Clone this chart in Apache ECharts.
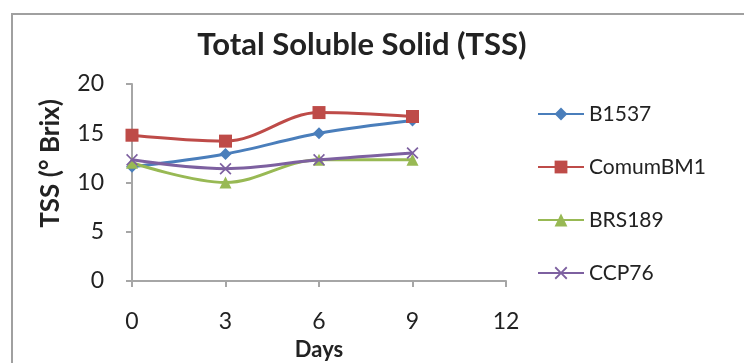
<!DOCTYPE html>
<html>
<head>
<meta charset="utf-8">
<script src="https://cdn.jsdelivr.net/npm/echarts@6/dist/echarts.min.js"></script>
<style>
  html, body { margin: 0; padding: 0; background: #fff; }
  #chart { width: 744px; height: 363px; }
</style>
</head>
<body>
<div id="chart"></div>
<script>
// Storage days and TSS readings per cultivar
const days = [0, 3, 6, 9];
const xTicks = [0, 3, 6, 9, 12];
const yTicks = [0, 5, 10, 15, 20];
const seriesNames = ['B1537', 'ComumBM1', 'BRS189', 'CCP76'];
const b1537 = [11.6, 12.9, 15.0, 16.3];
const comumBM1 = [14.8, 14.2, 17.1, 16.7];
const brs189 = [12.0, 10.0, 12.3, 12.3];
const ccp76 = [12.3, 11.4, 12.3, 13.0];

const FONT = 'Lato, "Open Sans", sans-serif';
const TEXT = '#222';
const AXIS = '#a6a6a6';

// Filled cross used as the CCP76 marker
const X_PATH = 'path://M1,0 L5,4 L9,0 L10,1 L6,5 L10,9 L9,10 L5,6 L1,10 L0,9 L4,5 L0,1 Z';

const seriesStyle = [
  { color: '#4a7ebb', symbol: 'diamond', size: 12 },
  { color: '#be4b48', symbol: 'rect', size: 13 },
  { color: '#98b954', symbol: 'triangle', size: 12 },
  { color: '#7d60a0', symbol: X_PATH, size: 12 }
];

const values = [b1537, comumBM1, brs189, ccp76];

const chart = echarts.init(document.getElementById('chart'));
chart.setOption({
  animation: false,
  backgroundColor: '#fff',
  title: {
    text: 'Total Soluble Solid (TSS)',
    left: 357,
    textAlign: 'center',
    top: 24,
    textStyle: { fontFamily: FONT, fontWeight: 'bold', fontSize: 31, color: TEXT }
  },
  graphic: [{
    type: 'rect',
    shape: { x: 12, y: 14, width: 800, height: 400 },
    style: { fill: 'none', stroke: '#a0a0a0', lineWidth: 2 },
    silent: true
  }],
  legend: {
    orient: 'vertical',
    left: 532,
    top: 98,
    itemGap: 31,
    itemWidth: 46,
    itemHeight: 16,
    textStyle: { fontFamily: FONT, fontSize: 21, lineHeight: 22, color: TEXT },
    data: seriesNames
  },
  grid: { left: 132, right: 238, top: 84, bottom: 82, containLabel: false, outerBoundsMode: 'none' },
  xAxis: {
    type: 'value',
    min: xTicks[0],
    max: xTicks[xTicks.length - 1],
    interval: 3,
    name: 'Days',
    nameLocation: 'middle',
    nameGap: 58,
    nameTextStyle: { fontFamily: FONT, fontWeight: 'bold', fontSize: 22, color: TEXT },
    axisLine: { show: true, lineStyle: { color: AXIS, width: 2 } },
    axisTick: { show: true, length: 6, lineStyle: { color: AXIS, width: 2 } },
    axisLabel: { fontFamily: FONT, fontSize: 23, color: TEXT, margin: 29 },
    splitLine: { show: false }
  },
  yAxis: {
    type: 'value',
    min: yTicks[0],
    max: yTicks[yTicks.length - 1],
    interval: 5,
    name: 'TSS (° Brix)',
    nameLocation: 'middle',
    nameGap: 68,
    nameRotate: 90,
    nameTextStyle: { fontFamily: FONT, fontWeight: 'bold', fontSize: 26, color: TEXT, padding: [0, 0, 0, 38] },
    axisLine: { show: true, lineStyle: { color: AXIS, width: 2 } },
    axisTick: { show: true, length: 6, lineStyle: { color: AXIS, width: 2 } },
    axisLabel: { fontFamily: FONT, fontSize: 23, color: TEXT, margin: 28 },
    splitLine: { show: false }
  },
  series: seriesNames.map((name, i) => ({
    name,
    type: 'line',
    smooth: 0.35,
    data: days.map((d, j) => [d, values[i][j]]),
    symbol: seriesStyle[i].symbol,
    symbolSize: seriesStyle[i].size,
    lineStyle: { color: seriesStyle[i].color, width: 3 },
    itemStyle: { color: seriesStyle[i].color },
    z: 2 + i
  }))
});
</script>
</body>
</html>
